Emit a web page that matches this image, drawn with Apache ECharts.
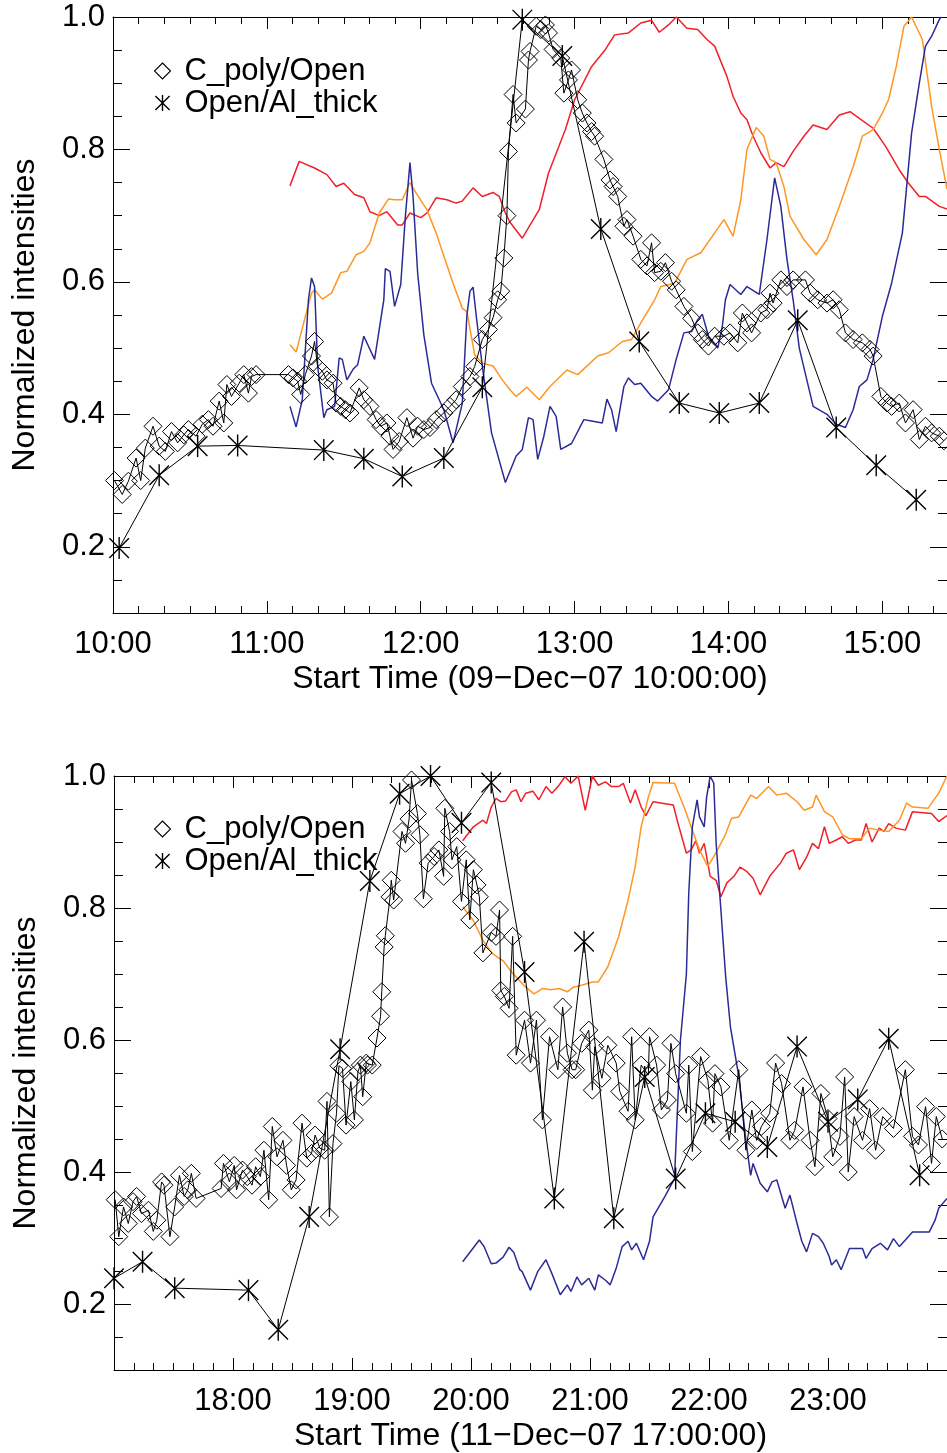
<!DOCTYPE html>
<html>
<head>
<meta charset="utf-8">
<script src="https://cdn.jsdelivr.net/npm/echarts@6/dist/echarts.min.js"></script>
<style>
  html, body { margin: 0; padding: 0; background: #fff; }
  #chart { width: 947px; height: 1453px; }
</style>
</head>
<body>
<div id="chart"></div>
<script>
// ---- panel 1: 09-Dec-07, time in hours ----
const topRed = [[11.15,0.745],[11.21,0.782],[11.31,0.772],[11.39,0.762],[11.45,0.744],[11.50,0.749],[11.57,0.732],[11.63,0.727],[11.67,0.706],[11.73,0.700],[11.78,0.706],[11.85,0.686],[11.88,0.686],[11.93,0.704],[12.00,0.697],[12.04,0.704],[12.10,0.727],[12.17,0.724],[12.23,0.719],[12.27,0.722],[12.34,0.742],[12.40,0.729],[12.47,0.735],[12.51,0.729],[12.55,0.704],[12.58,0.690],[12.66,0.666],[12.77,0.709],[12.83,0.764],[12.94,0.830],[13.00,0.875],[13.11,0.925],[13.20,0.951],[13.26,0.973],[13.35,0.976],[13.43,0.991],[13.50,0.995],[13.55,0.977],[13.61,0.988],[13.66,1.0],[13.73,0.983],[13.80,0.981],[13.86,0.966],[13.91,0.956],[13.95,0.933],[13.99,0.910],[14.03,0.880],[14.08,0.855],[14.12,0.845],[14.16,0.820],[14.21,0.795],[14.27,0.772],[14.31,0.780],[14.36,0.774],[14.42,0.797],[14.49,0.820],[14.55,0.837],[14.64,0.830],[14.72,0.852],[14.79,0.857],[14.85,0.847],[14.94,0.832],[15.02,0.805],[15.11,0.769],[15.17,0.749],[15.24,0.729],[15.28,0.729],[15.37,0.714],[15.42,0.71]];
const topOrange = [[11.15,0.505],[11.19,0.494],[11.25,0.548],[11.29,0.583],[11.31,0.588],[11.36,0.574],[11.42,0.583],[11.48,0.614],[11.52,0.616],[11.58,0.641],[11.63,0.646],[11.67,0.659],[11.73,0.704],[11.79,0.725],[11.83,0.724],[11.88,0.724],[11.93,0.750],[11.97,0.734],[12.04,0.709],[12.10,0.674],[12.15,0.639],[12.21,0.598],[12.27,0.560],[12.30,0.555],[12.35,0.490],[12.40,0.477],[12.47,0.473],[12.53,0.452],[12.58,0.437],[12.62,0.427],[12.69,0.441],[12.77,0.422],[12.84,0.442],[12.95,0.467],[13.02,0.460],[13.09,0.475],[13.15,0.488],[13.22,0.493],[13.31,0.510],[13.37,0.513],[13.43,0.538],[13.52,0.573],[13.56,0.593],[13.65,0.598],[13.73,0.634],[13.82,0.644],[13.91,0.674],[13.97,0.694],[14.03,0.669],[14.08,0.724],[14.12,0.800],[14.18,0.833],[14.23,0.820],[14.27,0.785],[14.31,0.780],[14.36,0.744],[14.40,0.699],[14.49,0.664],[14.57,0.641],[14.64,0.664],[14.72,0.714],[14.81,0.774],[14.87,0.820],[14.94,0.830],[15.00,0.855],[15.04,0.875],[15.09,0.925],[15.14,0.986],[15.19,1.0],[15.26,0.966],[15.32,0.865],[15.37,0.800],[15.42,0.74]];
const topBlue = [[11.15,0.412],[11.19,0.381],[11.23,0.422],[11.27,0.573],[11.29,0.606],[11.31,0.593],[11.33,0.473],[11.37,0.395],[11.39,0.407],[11.44,0.412],[11.47,0.485],[11.49,0.483],[11.52,0.452],[11.56,0.468],[11.59,0.475],[11.63,0.518],[11.70,0.483],[11.76,0.573],[11.77,0.620],[11.80,0.616],[11.83,0.563],[11.87,0.596],[11.90,0.699],[11.93,0.780],[11.95,0.729],[11.98,0.613],[12.02,0.52],[12.07,0.447],[12.15,0.407],[12.21,0.357],[12.27,0.417],[12.30,0.550],[12.32,0.586],[12.34,0.592],[12.36,0.550],[12.40,0.473],[12.46,0.372],[12.55,0.297],[12.62,0.337],[12.66,0.347],[12.70,0.395],[12.73,0.392],[12.76,0.332],[12.80,0.367],[12.84,0.412],[12.88,0.397],[12.91,0.347],[12.98,0.356],[13.06,0.392],[13.11,0.390],[13.18,0.387],[13.21,0.423],[13.24,0.407],[13.27,0.374],[13.32,0.442],[13.35,0.455],[13.39,0.445],[13.43,0.447],[13.50,0.427],[13.54,0.420],[13.61,0.437],[13.66,0.483],[13.71,0.523],[13.76,0.525],[13.80,0.543],[13.83,0.551],[13.87,0.518],[13.93,0.500],[13.96,0.533],[13.98,0.573],[14.01,0.596],[14.08,0.581],[14.12,0.593],[14.20,0.581],[14.25,0.664],[14.30,0.757],[14.34,0.714],[14.38,0.634],[14.42,0.573],[14.46,0.500],[14.55,0.412],[14.64,0.400],[14.70,0.385],[14.76,0.380],[14.81,0.407],[14.85,0.442],[14.90,0.452],[14.94,0.483],[15.00,0.548],[15.06,0.598],[15.13,0.674],[15.19,0.825],[15.24,0.900],[15.28,0.956],[15.32,0.971],[15.37,0.996],[15.38,1.0]];
const topCpoly = [[10.01,0.300],[10.06,0.279],[10.10,0.299],[10.15,0.334],[10.18,0.300],[10.21,0.349],[10.26,0.382],[10.30,0.352],[10.34,0.344],[10.38,0.374],[10.42,0.357],[10.46,0.369],[10.49,0.377],[10.54,0.367],[10.58,0.385],[10.62,0.392],[10.65,0.382],[10.69,0.420],[10.72,0.387],[10.74,0.445],[10.77,0.427],[10.82,0.447],[10.85,0.460],[10.88,0.432],[10.90,0.457],[10.93,0.460],[11.14,0.460],[11.17,0.455],[11.20,0.450],[11.22,0.430],[11.25,0.460],[11.29,0.488],[11.31,0.510],[11.33,0.472],[11.36,0.465],[11.39,0.452],[11.43,0.447],[11.45,0.417],[11.48,0.412],[11.51,0.407],[11.54,0.402],[11.60,0.440],[11.63,0.422],[11.67,0.412],[11.71,0.392],[11.74,0.382],[11.78,0.387],[11.80,0.367],[11.82,0.347],[11.86,0.359],[11.91,0.395],[11.95,0.364],[11.98,0.382],[12.02,0.377],[12.06,0.380],[12.10,0.392],[12.15,0.402],[12.19,0.412],[12.23,0.422],[12.27,0.442],[12.32,0.457],[12.35,0.472],[12.40,0.513],[12.44,0.528],[12.47,0.546],[12.50,0.573],[12.52,0.586],[12.54,0.636],[12.56,0.700],[12.57,0.797],[12.60,0.883],[12.62,0.840],[12.68,0.861],[12.70,0.935],[12.71,0.948],[12.75,0.986],[12.78,0.981],[12.81,0.988],[12.83,0.976],[12.86,0.951],[12.91,0.938],[12.93,0.885],[12.96,0.905],[12.98,0.920],[13.02,0.875],[13.05,0.855],[13.08,0.840],[13.11,0.827],[13.13,0.820],[13.19,0.785],[13.23,0.754],[13.25,0.744],[13.28,0.729],[13.32,0.684],[13.34,0.694],[13.38,0.669],[13.43,0.634],[13.47,0.624],[13.50,0.659],[13.52,0.614],[13.56,0.616],[13.59,0.629],[13.63,0.601],[13.66,0.588],[13.71,0.563],[13.76,0.545],[13.80,0.523],[13.83,0.513],[13.87,0.503],[13.91,0.518],[13.97,0.518],[14.01,0.523],[14.06,0.508],[14.09,0.553],[14.12,0.538],[14.15,0.523],[14.21,0.553],[14.25,0.558],[14.27,0.583],[14.29,0.568],[14.34,0.603],[14.38,0.593],[14.42,0.603],[14.50,0.603],[14.53,0.583],[14.58,0.573],[14.64,0.568],[14.68,0.573],[14.72,0.558],[14.76,0.523],[14.81,0.513],[14.87,0.508],[14.92,0.498],[14.94,0.488],[14.99,0.427],[15.03,0.417],[15.06,0.412],[15.11,0.417],[15.15,0.387],[15.20,0.407],[15.24,0.362],[15.28,0.382],[15.32,0.372],[15.37,0.367],[15.40,0.360]];
const topOpenAl = [[10.04,0.198],[10.30,0.308],[10.55,0.352],[10.81,0.353],[11.37,0.346],[11.63,0.333],[11.88,0.306],[12.15,0.334],[12.40,0.441],[12.66,0.996],[12.92,0.941],[13.17,0.680],[13.42,0.510],[13.68,0.417],[13.94,0.402],[14.20,0.417],[14.45,0.542],[14.70,0.380],[14.96,0.323],[15.22,0.271]];

// ---- panel 2: 11-Dec-07 ----
const botRed = [[19.93,0.902],[20.02,0.923],[20.10,0.933],[20.13,0.928],[20.17,0.953],[20.21,0.966],[20.25,0.961],[20.29,0.962],[20.34,0.976],[20.38,0.979],[20.42,0.961],[20.46,0.974],[20.52,0.977],[20.57,0.964],[20.63,0.984],[20.68,0.974],[20.74,0.986],[20.79,0.999],[20.84,0.989],[20.90,1.0],[20.96,0.948],[21.02,1.0],[21.07,0.986],[21.13,0.991],[21.18,0.984],[21.24,0.984],[21.28,0.989],[21.34,0.959],[21.38,0.979],[21.43,0.953],[21.47,0.940],[21.53,0.961],[21.70,0.956],[21.74,0.928],[21.81,0.883],[21.85,0.888],[21.89,0.902],[21.92,0.883],[21.96,0.898],[22.01,0.848],[22.06,0.842],[22.10,0.817],[22.15,0.838],[22.21,0.848],[22.26,0.862],[22.32,0.855],[22.37,0.845],[22.43,0.820],[22.51,0.848],[22.60,0.868],[22.65,0.883],[22.71,0.888],[22.76,0.858],[22.82,0.877],[22.87,0.898],[22.92,0.890],[22.97,0.923],[23.01,0.898],[23.07,0.903],[23.12,0.908],[23.17,0.898],[23.23,0.903],[23.28,0.903],[23.32,0.928],[23.37,0.900],[23.43,0.921],[23.47,0.916],[23.51,0.928],[23.57,0.921],[23.65,0.918],[23.71,0.946],[23.87,0.943],[23.93,0.931],[24.0,0.940]];
const botOrange = [[19.93,0.802],[20.02,0.781],[20.10,0.751],[20.18,0.731],[20.27,0.720],[20.35,0.701],[20.46,0.680],[20.53,0.670],[20.60,0.678],[20.67,0.676],[20.74,0.678],[20.81,0.673],[20.86,0.680],[20.93,0.683],[21.02,0.688],[21.07,0.688],[21.15,0.711],[21.24,0.756],[21.32,0.812],[21.38,0.863],[21.43,0.923],[21.49,0.968],[21.53,0.990],[21.71,0.989],[21.79,0.953],[21.85,0.923],[21.92,0.888],[21.99,0.863],[22.04,0.878],[22.13,0.908],[22.19,0.936],[22.25,0.938],[22.35,0.971],[22.40,0.966],[22.50,0.984],[22.57,0.971],[22.65,0.974],[22.74,0.961],[22.80,0.948],[22.87,0.953],[22.90,0.971],[22.97,0.946],[23.04,0.938],[23.12,0.911],[23.18,0.905],[23.28,0.905],[23.35,0.921],[23.43,0.918],[23.51,0.916],[23.60,0.933],[23.66,0.959],[23.71,0.953],[23.84,0.951],[23.93,0.974],[24.0,1.0]];
const botBlue = [[19.93,0.264],[20.07,0.297],[20.11,0.287],[20.17,0.261],[20.21,0.262],[20.27,0.271],[20.32,0.286],[20.36,0.278],[20.41,0.252],[20.43,0.249],[20.50,0.221],[20.56,0.249],[20.63,0.267],[20.68,0.246],[20.75,0.214],[20.81,0.229],[20.84,0.219],[20.89,0.241],[20.93,0.229],[20.99,0.239],[21.04,0.221],[21.07,0.244],[21.13,0.236],[21.17,0.229],[21.22,0.254],[21.27,0.287],[21.32,0.295],[21.35,0.282],[21.39,0.292],[21.45,0.267],[21.50,0.295],[21.53,0.332],[21.63,0.363],[21.71,0.390],[21.76,0.600],[21.81,0.700],[21.83,0.823],[21.86,0.923],[21.90,0.964],[21.92,0.938],[21.96,0.923],[21.98,0.968],[22.01,1.0],[22.04,0.989],[22.06,0.898],[22.10,0.797],[22.14,0.696],[22.18,0.620],[22.25,0.545],[22.31,0.448],[22.35,0.395],[22.37,0.413],[22.43,0.383],[22.49,0.370],[22.53,0.385],[22.57,0.388],[22.64,0.345],[22.68,0.365],[22.74,0.322],[22.78,0.295],[22.82,0.279],[22.87,0.307],[22.92,0.302],[22.96,0.292],[23.01,0.272],[23.03,0.259],[23.07,0.267],[23.11,0.252],[23.18,0.284],[23.29,0.284],[23.32,0.269],[23.37,0.284],[23.44,0.292],[23.50,0.282],[23.55,0.299],[23.60,0.287],[23.65,0.297],[23.71,0.309],[23.85,0.309],[23.90,0.327],[23.93,0.345],[24.0,0.360]];
const botCpoly = [[17.01,0.358],[17.04,0.302],[17.08,0.347],[17.12,0.322],[17.16,0.355],[17.19,0.363],[17.23,0.337],[17.29,0.342],[17.33,0.310],[17.36,0.327],[17.40,0.385],[17.42,0.380],[17.47,0.302],[17.51,0.347],[17.55,0.395],[17.59,0.363],[17.62,0.373],[17.65,0.398],[17.69,0.360],[17.90,0.375],[17.92,0.413],[17.97,0.385],[18.01,0.410],[18.03,0.373],[18.08,0.403],[18.12,0.393],[18.16,0.380],[18.19,0.408],[18.23,0.393],[18.26,0.433],[18.30,0.358],[18.33,0.469],[18.37,0.423],[18.42,0.448],[18.45,0.410],[18.49,0.373],[18.53,0.388],[18.58,0.474],[18.62,0.421],[18.66,0.428],[18.69,0.456],[18.73,0.436],[18.77,0.433],[18.79,0.507],[18.81,0.332],[18.84,0.443],[18.87,0.489],[18.89,0.561],[18.92,0.557],[18.95,0.471],[18.99,0.537],[19.02,0.479],[19.05,0.552],[19.07,0.562],[19.09,0.514],[19.12,0.565],[19.13,0.562],[19.17,0.562],[19.21,0.603],[19.24,0.636],[19.25,0.673],[19.27,0.741],[19.28,0.758],[19.32,0.817],[19.33,0.842],[19.35,0.812],[19.42,0.916],[19.45,0.898],[19.48,0.935],[19.50,0.994],[19.55,0.943],[19.57,0.911],[19.60,0.814],[19.64,0.868],[19.69,0.878],[19.73,0.888],[19.77,0.848],[19.78,0.951],[19.82,0.916],[19.84,0.873],[19.88,0.893],[19.92,0.810],[19.96,0.873],[19.99,0.782],[20.02,0.858],[20.05,0.835],[20.07,0.817],[20.10,0.732],[20.17,0.763],[20.21,0.757],[20.24,0.797],[20.25,0.675],[20.28,0.666],[20.32,0.648],[20.35,0.757],[20.38,0.577],[20.45,0.630],[20.50,0.565],[20.55,0.630],[20.60,0.479],[20.66,0.605],[20.73,0.555],[20.77,0.650],[20.81,0.580],[20.85,0.555],[20.88,0.555],[20.93,0.595],[20.99,0.615],[21.02,0.524],[21.04,0.590],[21.10,0.542],[21.15,0.592],[21.22,0.565],[21.25,0.522],[21.32,0.492],[21.35,0.605],[21.38,0.479],[21.43,0.562],[21.49,0.547],[21.50,0.605],[21.56,0.562],[21.60,0.494],[21.65,0.509],[21.68,0.595],[21.72,0.549],[21.81,0.489],[21.83,0.562],[21.86,0.431],[21.93,0.575],[21.99,0.539],[22.03,0.474],[22.05,0.549],[22.10,0.529],[22.17,0.448],[22.25,0.555],[22.31,0.433],[22.36,0.494],[22.40,0.448],[22.44,0.469],[22.51,0.489],[22.56,0.565],[22.61,0.534],[22.68,0.448],[22.72,0.463],[22.79,0.529],[22.85,0.448],[22.89,0.408],[22.94,0.519],[23.00,0.481],[23.04,0.423],[23.10,0.454],[23.14,0.544],[23.17,0.400],[23.22,0.484],[23.29,0.448],[23.35,0.496],[23.40,0.433],[23.46,0.484],[23.55,0.466],[23.65,0.555],[23.71,0.454],[23.76,0.441],[23.82,0.499],[23.87,0.413],[23.91,0.484],[23.96,0.450]];
const botOpenAl = [[17.00,0.239],[17.24,0.264],[17.51,0.224],[18.13,0.221],[18.38,0.161],[18.64,0.332],[18.90,0.586],[19.15,0.841],[19.40,0.973],[19.66,1.0],[19.92,0.929],[20.17,0.990],[20.45,0.703],[20.70,0.360],[20.95,0.749],[21.20,0.330],[21.46,0.544],[21.72,0.390],[21.97,0.489],[22.22,0.476],[22.49,0.438],[22.74,0.590],[23.00,0.476],[23.25,0.510],[23.51,0.602],[23.77,0.395]];

// axis labels
const topHourLabels = [10, 11, 12, 13, 14, 15];
const botHourLabels = [18, 19, 20, 21, 22, 23];
const yLabels = [0.2, 0.4, 0.6, 0.8, 1.0];
const topTitle = 'Start Time (09\u2212Dec\u221207 10:00:00)';
const botTitle = 'Start Time (11\u2212Dec\u221207 17:00:00)';
const yTitle = 'Normalized intensities';
const names = ['C_poly/Open', 'Open/Al_thick'];

const FONT = "'Liberation Sans', Arial, sans-serif";
const DIAMOND = 'path://M0,-8L8,0L0,8L-8,0Z';
const STAR = 'path://M0,-9L0,9M-8,-8L8,8M-8,8L8,-8';
const RED = '#f0202a', ORANGE = '#ff9622', BLUE = '#2b2b98';

function steps(from, to, step) {
  const out = [];
  for (let v = from; v <= to + 1e-9; v += step) out.push(Math.round(v * 1000) / 1000);
  return out;
}
const yMinor = steps(0.1, 1.0, 0.05);

function xAxes(grid, min, max, labels, title) {
  const majors = steps(min, Math.floor(max), 1);
  const minors = steps(min, max, 1 / 6);
  const base = { gridIndex: grid, type: 'value', min: min, max: max, splitLine: { show: false } };
  const line = { show: true, lineStyle: { color: '#000', width: 1 } };
  return [
    Object.assign({}, base, {
      position: 'bottom', axisLine: line,
      axisTick: { inside: true, length: 12, customValues: majors, lineStyle: { color: '#000' } },
      axisLabel: { customValues: labels, formatter: v => v + ':00', color: '#000', fontSize: 31, fontFamily: FONT, margin: 16 },
      name: title, nameLocation: 'middle', nameGap: 50,
      nameTextStyle: { color: '#000', fontSize: 32, fontFamily: FONT }
    }),
    Object.assign({}, base, {
      position: 'bottom', axisLine: { show: false },
      axisTick: { inside: true, length: 7, customValues: minors, lineStyle: { color: '#000' } },
      axisLabel: { show: false }
    }),
    Object.assign({}, base, {
      position: 'top', axisLine: line,
      axisTick: { inside: true, length: 12, customValues: majors, lineStyle: { color: '#000' } },
      axisLabel: { show: false }
    }),
    Object.assign({}, base, {
      position: 'top', axisLine: { show: false },
      axisTick: { inside: true, length: 7, customValues: minors, lineStyle: { color: '#000' } },
      axisLabel: { show: false }
    })
  ];
}

function yAxes(grid) {
  const base = { gridIndex: grid, type: 'value', min: 0.1, max: 1.0, splitLine: { show: false } };
  const line = { show: true, lineStyle: { color: '#000', width: 1 } };
  return [
    Object.assign({}, base, {
      position: 'left', axisLine: line,
      axisTick: { inside: true, length: 17, customValues: yLabels, lineStyle: { color: '#000' } },
      axisLabel: { customValues: yLabels, formatter: v => v.toFixed(1), color: '#000', fontSize: 31, fontFamily: FONT, margin: 8 },
      name: yTitle, nameLocation: 'middle', nameGap: 72,
      nameTextStyle: { color: '#000', fontSize: 32, fontFamily: FONT }
    }),
    Object.assign({}, base, {
      position: 'left', axisLine: { show: false },
      axisTick: { inside: true, length: 9, customValues: yMinor, lineStyle: { color: '#000' } },
      axisLabel: { show: false }
    }),
    Object.assign({}, base, {
      position: 'right', axisLine: line,
      axisTick: { inside: true, length: 17, customValues: yLabels, lineStyle: { color: '#000' } },
      axisLabel: { show: false }
    }),
    Object.assign({}, base, {
      position: 'right', axisLine: { show: false },
      axisTick: { inside: true, length: 9, customValues: yMinor, lineStyle: { color: '#000' } },
      axisLabel: { show: false }
    })
  ];
}

function colorLine(data, color, axis) {
  return {
    type: 'line', data: data, xAxisIndex: axis, yAxisIndex: axis,
    showSymbol: false, symbol: 'none', silent: true,
    lineStyle: { color: color, width: 1.5 }, itemStyle: { color: color }
  };
}
function markLine(name, data, symbol, size, width, axis) {
  return {
    type: 'line', name: name, data: data, xAxisIndex: axis, yAxisIndex: axis,
    symbol: symbol, symbolSize: size, symbolKeepAspect: true, showAllSymbol: true,
    lineStyle: { color: '#000', width: 1 },
    itemStyle: { color: 'none', borderColor: '#000', borderWidth: width }
  };
}

function legend(top) {
  return {
    top: top, left: 147, orient: 'vertical', itemWidth: 16, itemHeight: 16, itemGap: 0,
    selectedMode: false,
    textStyle: { color: '#000', fontSize: 31, fontFamily: FONT, lineHeight: 32, padding: [0, 0, 0, 9] },
    data: [
      { name: names[0], icon: DIAMOND, itemStyle: { color: 'none', borderColor: '#000', borderWidth: 1.1 } },
      { name: names[1], icon: STAR, itemStyle: { color: 'none', borderColor: '#000', borderWidth: 1.4 } }
    ]
  };
}

const chart = echarts.init(document.getElementById('chart'));
chart.setOption({
  animation: false,
  backgroundColor: '#fff',
  grid: [
    { left: 113, top: 17, width: 841, height: 596 },
    { left: 114, top: 776, width: 840, height: 594 }
  ],
  xAxis: xAxes(0, 10, 15.42, topHourLabels, topTitle).concat(xAxes(1, 17, 24, botHourLabels, botTitle)),
  yAxis: yAxes(0).concat(yAxes(1)),
  legend: [legend(50), legend(808)],
  series: [
    colorLine(topRed, RED, 0),
    colorLine(topOrange, ORANGE, 0),
    colorLine(topBlue, BLUE, 0),
    markLine(names[0], topCpoly, DIAMOND, 18, 1, 0),
    markLine(names[1], topOpenAl, STAR, 22, 1.4, 0),
    colorLine(botRed, RED, 4),
    colorLine(botOrange, ORANGE, 4),
    colorLine(botBlue, BLUE, 4),
    markLine(names[0], botCpoly, DIAMOND, 18, 1, 4),
    markLine(names[1], botOpenAl, STAR, 22, 1.4, 4)
  ]
});
</script>
</body>
</html>
